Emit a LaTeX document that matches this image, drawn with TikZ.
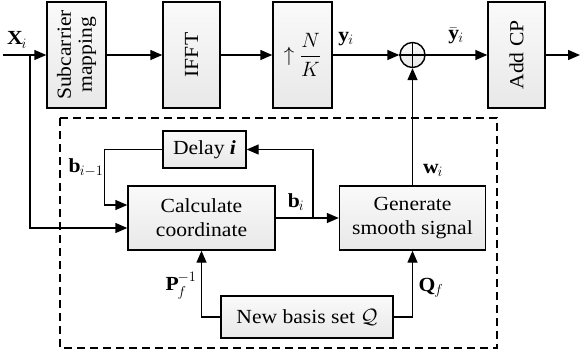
\documentclass[tikz,border=0pt]{standalone}
\usepackage{amsmath}
\usepackage{fontspec}
\setmainfont[FakeStretch=1.08]{Liberation Serif}
\usepackage{tikz}
\usetikzlibrary{arrows.meta,positioning,calc}

\begin{document}
\begin{tikzpicture}[
    >={Triangle[length=12pt,width=10pt]},
    x=1pt, y=-1pt,
    font=\fontsize{20}{24}\selectfont,
    blk/.style={draw,line width=1.4pt,inner sep=1pt,align=center,
                top color=gray!4,bottom color=gray!18},
    tall/.style={blk,minimum height=106pt},
    sumnode/.style={circle,draw,line width=1.4pt,minimum size=25pt,inner sep=0pt,
                    top color=gray!4,bottom color=gray!18},
    sig/.style={->,line width=1.4pt},
    wire/.style={line width=1.4pt},
    frame/.style={line width=1.1pt,dash pattern=on 8pt off 5pt},
  ]
  \useasboundingbox (0,0) rectangle (580,356);

  % --- transmitter chain ---
  \coordinate (xin) at (3,55);
  \coordinate (tap) at (30,55);
  \node[tall,minimum width=59pt] (sub) at (76.5,55)
    {\rotatebox{90}{\begin{tabular}{@{}c@{}}Subcarrier\\[-3pt]mapping\end{tabular}}};
  \node[tall,minimum width=57pt] (ifft) at (191.5,55) {\rotatebox{90}{IFFT}};
  \node[tall,minimum width=59pt] (up)   at (302.5,55) {$\uparrow\dfrac{N}{K}$};
  \node[sumnode] (sum) at (412.5,55) {};
  \node[tall,minimum width=57pt] (addcp) at (516.5,55) {\rotatebox{90}{Add CP}};
  \coordinate (xout) at (580,55);

  \draw[wire] (sum.north) -- (sum.south) (sum.west) -- (sum.east);

  \draw[sig] (xin) -- (sub);
  \draw[sig] (sub) -- (ifft);
  \draw[sig] (ifft) -- (up);
  \draw[sig] (up) -- (sum);
  \draw[sig] (sum) -- (addcp);
  \draw[sig] (addcp) -- (xout);

  \node (lx)  at (17,40)  {$\mathbf{X}_i$};
  \node (ly)  at (346,39) {$\mathbf{y}_i$};
  \node (lyb) at (456,36) {$\bar{\mathbf{y}}_i$};

  % --- smoothing block (dashed) ---
  \draw[frame] (60,118) rectangle (497,348);

  \node[blk,minimum width=83pt,minimum height=37pt]  (delay) at (204.5,149.5) {Delay \textbf{\textit{i}}};
  \node[blk,minimum width=147pt,minimum height=64pt] (calc)  at (201.5,218) {Calculate\\coordinate};
  \node[blk,minimum width=146pt,minimum height=64pt] (gen)   at (412.5,218) {Generate\\smooth signal};
  \node[blk,minimum width=172pt,minimum height=42pt] (basis) at (307,317) {New basis set $\mathcal{Q}$};
  \coordinate (bsplit) at (313,218);

  \draw[sig] (tap) |- ($(calc.west)+(0,10)$);
  \draw[sig] (delay.west) -- ++(-58,0) |- ($(calc.west)+(0,-13)$);
  \draw[sig] (calc.east) -- (gen.west);
  \draw[sig] (bsplit) |- (delay.east);
  \draw[sig] (gen.north) -- (sum.south);
  \draw[sig] (basis.west) -| (calc.south);
  \draw[sig] (basis.east) -| (gen.south);

  \node (lbp) at (86,168)  {$\mathbf{b}_{i-1}$};
  \node (lb)  at (296,202) {$\mathbf{b}_i$};
  \node (lw)  at (433,170) {$\mathbf{w}_i$};
  \node (lp)  at (181,286) {$\mathbf{P}_f^{-1}$};
  \node (lq)  at (431,288) {$\mathbf{Q}_f$};

\end{tikzpicture}
\end{document}
